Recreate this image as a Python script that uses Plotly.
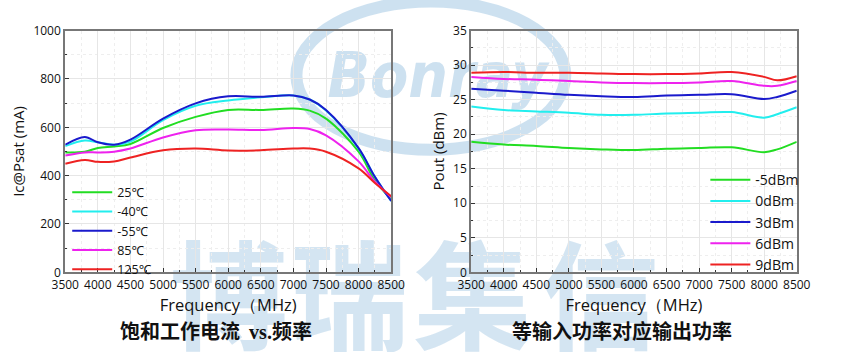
import plotly.graph_objects as go

freq_ic = [3500, 3800, 4000, 4250, 4500, 5000, 5500, 6000, 6500, 7000, 7250, 7500, 8000, 8250, 8500]
ic_25 = [496, 499, 514, 521, 531, 597, 643, 672, 672, 678, 669, 636, 499, 380, 302]
ic_m40 = [522, 545, 538, 528, 541, 630, 689, 711, 724, 732, 715, 669, 512, 395, 295]
ic_m55 = [528, 560, 538, 528, 549, 636, 699, 728, 726, 732, 715, 672, 514, 395, 295]
ic_85 = [483, 496, 496, 499, 512, 558, 588, 591, 589, 597, 593, 567, 459, 375, 312]
ic_125 = [449, 465, 457, 459, 475, 505, 512, 504, 505, 512, 512, 499, 430, 370, 315]

freq_p = [3500, 4000, 4500, 5000, 5500, 6000, 6500, 7000, 7500, 8000, 8200, 8500]
p_m5 = [18.9, 18.5, 18.3, 18.0, 17.8, 17.7, 17.9, 18.0, 18.1, 17.4, 17.8, 18.9]
p_0 = [24.0, 23.5, 23.3, 23.1, 22.8, 22.8, 23.0, 23.1, 23.2, 22.4, 22.9, 23.9]
p_3 = [26.6, 26.3, 26.0, 25.7, 25.5, 25.4, 25.6, 25.7, 25.8, 25.1, 25.4, 26.3]
p_6 = [28.3, 28.0, 27.9, 27.7, 27.5, 27.4, 27.4, 27.5, 27.7, 27.0, 27.0, 27.7]
p_9 = [28.9, 29.0, 28.9, 28.9, 28.8, 28.7, 28.7, 28.8, 29.0, 28.3, 27.8, 28.4]

ic_names = ["25℃", "-40℃", "-55℃", "85℃", "125℃"]
p_names = ["-5dBm", "0dBm", "3dBm", "6dBm", "9dBm"]
colors = ["#22dd22", "#22eeee", "#1a1acc", "#ee22ee", "#ee2222"]

FONT = "Open Sans, Noto Sans, sans-serif"
fig = go.Figure()

for name, ys, c in zip(ic_names, [ic_25, ic_m40, ic_m55, ic_85, ic_125], colors):
    fig.add_trace(go.Scatter(x=freq_ic, y=ys, name=name, mode="lines",
                             line=dict(color=c, width=2, shape="spline", smoothing=1.0),
                             xaxis="x", yaxis="y", legend="legend"))
for name, ys, c in zip(p_names, [p_m5, p_0, p_3, p_6, p_9], colors):
    fig.add_trace(go.Scatter(x=freq_p, y=ys, name=name, mode="lines",
                             line=dict(color=c, width=2, shape="spline", smoothing=1.0),
                             xaxis="x2", yaxis="y2", legend="legend2"))

def xa(domain, anchor):
    return dict(domain=domain, anchor=anchor, range=[3500, 8500], dtick=500,
                showline=True, mirror=True, linecolor="#777", linewidth=2,
                ticks="inside", ticklen=4, tickcolor="#333", tickwidth=1,
                showgrid=True, gridcolor="#e6e6e6", gridwidth=1, zeroline=False,
                minor=dict(dtick=250, ticks="inside", ticklen=2, tickcolor="#333",
                           showgrid=True, gridcolor="#eeeeee", griddash="dot"),
                tickfont=dict(size=12, color="#111", family=FONT),
                title=dict(text="Frequency（MHz)", font=dict(size=16.5, color="#111", family=FONT), standoff=2))

def ya(domain, anchor, rng, dt, mdt, title):
    return dict(domain=domain, anchor=anchor, range=rng, dtick=dt,
                showline=True, mirror=True, linecolor="#777", linewidth=2,
                ticks="inside", ticklen=4, tickcolor="#333", tickwidth=1,
                showgrid=True, gridcolor="#e6e6e6", gridwidth=1, zeroline=False,
                minor=dict(dtick=mdt, ticks="inside", ticklen=2, tickcolor="#333",
                           showgrid=True, gridcolor="#eeeeee", griddash="dot"),
                tickfont=dict(size=12, color="#111", family=FONT),
                title=dict(text=title, font=dict(size=15, color="#111", family=FONT), standoff=5))

ydom = [0.2139, 0.9355]
fig.update_layout(
    width=853, height=352, margin=dict(l=0, r=0, t=0, b=0),
    paper_bgcolor="white", plot_bgcolor="rgba(0,0,0,0)",
    font=dict(family=FONT),
    xaxis=xa([0.0621, 0.4572], "y"),
    yaxis=ya(ydom, "x", [0, 1000], 200, 100, "Ic@Psat (mA)"),
    xaxis2=xa([0.5542, 0.9488], "y2"),
    yaxis2=ya(ydom, "x2", [0, 35], 5, 2.5, "Pout (dBm)"),
    legend=dict(x=0.0645, y=0.497, xanchor="left", yanchor="top", bgcolor="rgba(0,0,0,0)",
                font=dict(size=12.5, color="#111", family=FONT), tracegroupgap=0,
                itemwidth=40, traceorder="normal"),
    legend2=dict(x=0.838, y=0.537, xanchor="left", yanchor="top", bgcolor="rgba(0,0,0,0)",
                 font=dict(size=14, color="#111", family=FONT), tracegroupgap=0,
                 itemwidth=40, traceorder="normal"),
    showlegend=True,
)

wm = "rgba(200,222,238,0.9)"
# watermark logo ring (behind the data)
fig.add_shape(type="circle", xref="paper", yref="paper",
              x0=292/853, x1=570/853, y0=1-148/352, y1=1+8/352,
              line=dict(color=wm, width=12), layer="below")
fig.add_shape(type="rect", xref="paper", yref="paper",
              x0=328/853, x1=548/853, y0=1-108/352, y1=1-24/352,
              line=dict(width=0), fillcolor="rgba(0,0,0,0)", layer="below",
              label=dict(text="<i>Bonray</i>", textposition="middle center",
                         font=dict(size=62, color=wm, weight="bold",
                                   family="DejaVu Sans Condensed, sans-serif")))
# watermark characters (behind the data)
for ch, cx in zip(["博", "瑞", "集", "信"], [222, 347, 474, 606]):
    fig.add_shape(type="rect", xref="paper", yref="paper",
                  x0=(cx - 60)/853, x1=(cx + 60)/853, y0=1-375/352, y1=1-255/352,
                  line=dict(width=0), fillcolor="rgba(0,0,0,0)", layer="below",
                  label=dict(text=ch, textposition="middle center",
                             font=dict(size=118, color="rgba(205,225,240,0.85)", weight="bold",
                                       family="Noto Sans CJK SC")))

# captions
fig.add_annotation(x=209/853, y=1-338/352, xref="paper", yref="paper", xanchor="center", yanchor="middle",
                   text="<b>饱和工作电流  <span style='font-family:Liberation Serif'>vs.</span>频率</b>",
                   showarrow=False, font=dict(size=20, color="#111", family="Noto Sans CJK SC"))
fig.add_annotation(x=629/853, y=1-338/352, xref="paper", yref="paper", xanchor="center", yanchor="middle",
                   text="<b>等输入功率对应输出功率</b>",
                   showarrow=False, font=dict(size=20, color="#111", family="Noto Sans CJK SC"))

fig.write_html("out.html")
